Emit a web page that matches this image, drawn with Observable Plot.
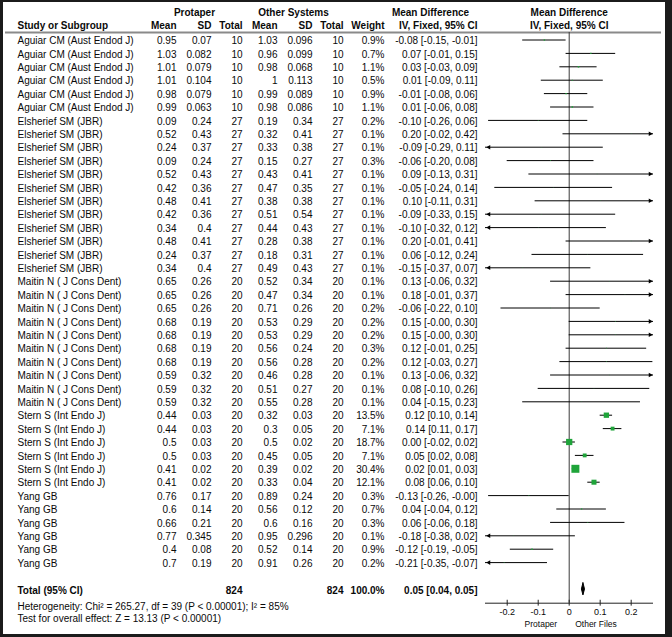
<!DOCTYPE html>
<html>
<head>
<meta charset="utf-8">
<script src="https://cdn.jsdelivr.net/npm/d3@7"></script>
<script src="https://cdn.jsdelivr.net/npm/@observablehq/plot@0.6"></script>
<style>
  html, body { margin: 0; padding: 0; background: #1b1b1b; }
  #wrap { position: relative; width: 672px; height: 637px; background: #1b1b1b; overflow: hidden; }
  #inner { position: absolute; left: 3px; top: 2px; width: 662px; height: 632px; background: #fff; }
  #chart { position: absolute; left: 0; top: 0; }
</style>
</head>
<body>
<div id="wrap"><div id="inner"></div><div id="chart"></div></div>
<script>
const studies = [
  "Aguiar CM (Aust Endod J)","Aguiar CM (Aust Endod J)","Aguiar CM (Aust Endod J)",
  "Aguiar CM (Aust Endod J)","Aguiar CM (Aust Endod J)","Aguiar CM (Aust Endod J)",
  "Elsherief SM (JBR)","Elsherief SM (JBR)","Elsherief SM (JBR)","Elsherief SM (JBR)",
  "Elsherief SM (JBR)","Elsherief SM (JBR)","Elsherief SM (JBR)","Elsherief SM (JBR)",
  "Elsherief SM (JBR)","Elsherief SM (JBR)","Elsherief SM (JBR)","Elsherief SM (JBR)",
  "Maitin N ( J Cons Dent)","Maitin N ( J Cons Dent)","Maitin N ( J Cons Dent)",
  "Maitin N ( J Cons Dent)","Maitin N ( J Cons Dent)","Maitin N ( J Cons Dent)",
  "Maitin N ( J Cons Dent)","Maitin N ( J Cons Dent)","Maitin N ( J Cons Dent)",
  "Maitin N ( J Cons Dent)",
  "Stern S (Int Endo J)","Stern S (Int Endo J)","Stern S (Int Endo J)",
  "Stern S (Int Endo J)","Stern S (Int Endo J)","Stern S (Int Endo J)",
  "Yang GB","Yang GB","Yang GB","Yang GB","Yang GB","Yang GB"
];
const protaperMean = [0.95,1.03,1.01,1.01,0.98,0.99,
  0.09,0.52,0.24,0.09,0.52,0.42,0.48,0.42,0.34,0.48,0.24,0.34,
  0.65,0.65,0.65,0.68,0.68,0.68,0.68,0.59,0.59,0.59,
  0.44,0.44,0.5,0.5,0.41,0.41,
  0.76,0.6,0.66,0.77,0.4,0.7];
const protaperSD = [0.07,0.082,0.079,0.104,0.079,0.063,
  0.24,0.43,0.37,0.24,0.43,0.36,0.41,0.36,0.4,0.41,0.37,0.4,
  0.26,0.26,0.26,0.19,0.19,0.19,0.19,0.32,0.32,0.32,
  0.03,0.03,0.03,0.03,0.02,0.02,
  0.17,0.14,0.21,0.345,0.08,0.19];
const protaperN = [10,10,10,10,10,10,
  27,27,27,27,27,27,27,27,27,27,27,27,
  20,20,20,20,20,20,20,20,20,20,
  20,20,20,20,20,20,
  20,20,20,20,20,20];
const otherMean = [1.03,0.96,0.98,1,0.99,0.98,
  0.19,0.32,0.33,0.15,0.43,0.47,0.38,0.51,0.44,0.28,0.18,0.49,
  0.52,0.47,0.71,0.53,0.53,0.56,0.56,0.46,0.51,0.55,
  0.32,0.3,0.5,0.45,0.39,0.33,
  0.89,0.56,0.6,0.95,0.52,0.91];
const otherSD = [0.096,0.099,0.068,0.113,0.089,0.086,
  0.34,0.41,0.38,0.27,0.41,0.35,0.38,0.54,0.43,0.38,0.31,0.43,
  0.34,0.34,0.26,0.29,0.29,0.24,0.28,0.28,0.27,0.28,
  0.03,0.05,0.02,0.05,0.02,0.04,
  0.24,0.12,0.16,0.296,0.14,0.26];
const otherN = protaperN.slice();
const weight = [0.9,0.7,1.1,0.5,0.9,1.1,
  0.2,0.1,0.1,0.3,0.1,0.1,0.1,0.1,0.1,0.1,0.1,0.1,
  0.1,0.1,0.2,0.2,0.2,0.3,0.2,0.1,0.1,0.1,
  13.5,7.1,18.7,7.1,30.4,12.1,
  0.3,0.7,0.3,0.1,0.9,0.2];
const md = [-0.08,0.07,0.03,0.01,-0.01,0.01,
  -0.10,0.20,-0.09,-0.06,0.09,-0.05,0.10,-0.09,-0.10,0.20,0.06,-0.15,
  0.13,0.18,-0.06,0.15,0.15,0.12,0.12,0.13,0.08,0.04,
  0.12,0.14,0.00,0.05,0.02,0.08,
  -0.13,0.04,0.06,-0.18,-0.12,-0.21];
const ciLow = [-0.15,-0.01,-0.03,-0.09,-0.08,-0.06,
  -0.26,-0.02,-0.29,-0.20,-0.13,-0.24,-0.11,-0.33,-0.32,-0.01,-0.12,-0.37,
  -0.06,-0.01,-0.22,-0,-0,-0.01,-0.03,-0.06,-0.10,-0.15,
  0.10,0.11,-0.02,0.02,0.01,0.06,
  -0.26,-0.04,-0.06,-0.38,-0.19,-0.35];
const ciHigh = [-0.01,0.15,0.09,0.11,0.06,0.08,
  0.06,0.42,0.11,0.08,0.31,0.14,0.31,0.15,0.12,0.41,0.24,0.07,
  0.32,0.37,0.10,0.30,0.30,0.25,0.27,0.32,0.26,0.23,
  0.14,0.17,0.02,0.08,0.03,0.10,
  -0,0.12,0.18,0.02,-0.05,-0.07];

// overall (pooled) estimate
const totalLabel = "0.05 [0.04, 0.05]";
const totalMD = 0.046, totalLow = 0.041, totalHigh = 0.051;
const totalWeight = "100.0%";
const heterogeneity = "Heterogeneity: Chi\u00B2 = 265.27, df = 39 (P < 0.00001); I\u00B2 = 85%";
const overallTest = "Test for overall effect: Z = 13.13 (P < 0.00001)";

const xDomain = [-0.27, 0.272];
const xTicks = [-0.2, -0.1, 0, 0.1, 0.2];
const tickLabels = ["-0.2", "-0.1", "0", "0.1", "0.2"];
const favoursLeft = "Protaper";
const favoursRight = "Other Files";

const fmt2 = v => ((v < 0 || Object.is(v, -0)) ? "-" : "") + Math.abs(v).toFixed(2);

const rows = studies.map((s, i) => ({
  i, study: s,
  pm: protaperMean[i], psd: protaperSD[i], pn: protaperN[i],
  om: otherMean[i], osd: otherSD[i], on: otherN[i],
  w: weight[i], md: md[i], lo: ciLow[i], hi: ciHigh[i],
  x1: Math.max(ciLow[i], xDomain[0]), x2: Math.min(ciHigh[i], xDomain[1]),
  ci: `${fmt2(md[i])} [${fmt2(ciLow[i])}, ${fmt2(ciHigh[i])}]`
}));

const totalP = d3.sum(protaperN), totalO = d3.sum(otherN);

const ink = "#0a0a0a";
const green = "#1fa43a";
const TOTAL_ROW = 41, AXIS_ROW = 42.03, HEAD2 = -1.06, HEAD1 = -2.05, HLINE = -0.56;

function label(t, dx, y, anchor, opts = {}) {
  return Plot.text([t], {text: d => d, frameAnchor: "left", dx, y, textAnchor: anchor, fill: ink, ...opts});
}
function col(fn, right, opts = {}) {
  return Plot.text(rows, {y: "i", text: fn, frameAnchor: "left", dx: right, dy: 1, textAnchor: "end", fill: ink, ...opts});
}
const B = {fontWeight: "bold"};

const chart = Plot.plot({
  width: 672, height: 637,
  marginLeft: 0, marginRight: 0, marginTop: 0, marginBottom: 0,
  style: {background: "transparent", fontFamily: "'Liberation Sans', Arial, sans-serif", fontSize: "10px"},
  x: {domain: xDomain, range: [485, 653], axis: null},
  y: {type: "linear", domain: [0, 39], range: [39.5, 562.1], axis: null},
  r: {type: "sqrt", domain: [0, d3.max(weight)], range: [0, 4.5]},
  marks: [
    // header rule
    Plot.ruleY([HLINE], {stroke: "#8a8a8a", strokeWidth: 2, insetLeft: 5, insetRight: 11}),
    // header texts
    label("Protaper", 194, HEAD1, "middle", B),
    label("Other Systems", 293, HEAD1, "middle", B),
    label("Mean Difference", 430, HEAD1, "middle", B),
    Plot.text(["Mean Difference"], {x: () => 0, y: HEAD1, text: d => d, fontWeight: "bold", fill: ink}),
    label("Study or Subgroup", 17, HEAD2, "start", B),
    label("Mean", 176, HEAD2, "end", B),
    label("SD", 211, HEAD2, "end", B),
    label("Total", 242, HEAD2, "end", B),
    label("Mean", 277, HEAD2, "end", B),
    label("SD", 312, HEAD2, "end", B),
    label("Total", 343, HEAD2, "end", B),
    label("Weight", 384, HEAD2, "end", B),
    label("IV, Fixed, 95% CI", 477, HEAD2, "end", B),
    Plot.text(["IV, Fixed, 95% CI"], {x: () => 0, y: HEAD2, text: d => d, fontWeight: "bold", fill: ink}),
    // study rows
    Plot.text(rows, {y: "i", text: "study", frameAnchor: "left", dx: 17, dy: 1, textAnchor: "start", fill: ink}),
    col(d => String(d.pm), 176),
    col(d => String(d.psd), 211),
    col(d => String(d.pn), 242),
    col(d => String(d.om), 277),
    col(d => String(d.osd), 312),
    col(d => String(d.on), 343),
    col(d => d.w.toFixed(1) + "%", 384),
    col(d => d.ci, 477),
    // total row
    label("Total (95% CI)", 17, TOTAL_ROW + 0.07, "start", B),
    label(String(totalP), 242, TOTAL_ROW + 0.07, "end", B),
    label(String(totalO), 343, TOTAL_ROW + 0.07, "end", B),
    label(totalWeight, 384, TOTAL_ROW + 0.07, "end", B),
    label(totalLabel, 477, TOTAL_ROW + 0.07, "end", B),
    label(heterogeneity, 17, 42.33, "start"),
    label(overallTest, 17, 43.19, "start"),
    // zero line
    Plot.ruleX([0], {y1: HLINE, y2: AXIS_ROW, stroke: "#3a3a3a", strokeWidth: 1}),
    // CI lines
    Plot.ruleY(rows, {y: "i", x1: "x1", x2: "x2", stroke: "#000", strokeWidth: 1}),
    Plot.dot(rows.filter(d => d.hi > xDomain[1]), {x: () => xDomain[1], y: "i", symbol: "triangle2", r: 2.2, rotate: 90, dx: -3.4, fill: "#000", stroke: "none"}),
    Plot.dot(rows.filter(d => d.lo < xDomain[0]), {x: () => xDomain[0], y: "i", symbol: "triangle2", r: 2.2, rotate: -90, dx: 3.4, fill: "#000", stroke: "none"}),
    // weight squares
    Plot.dot(rows, {x: "md", y: "i", r: "w", symbol: "square", fill: green, stroke: "none"}),
    // pooled diamond
    Plot.areaX([
      {y: TOTAL_ROW - 0.45, a: totalMD, b: totalMD},
      {y: TOTAL_ROW, a: totalLow, b: totalHigh},
      {y: TOTAL_ROW + 0.45, a: totalMD, b: totalMD}
    ], {y: "y", x1: "a", x2: "b", fill: "#000", stroke: "#000", strokeWidth: 1}),
    // axis
    Plot.ruleY([AXIS_ROW], {x1: xDomain[0], x2: xDomain[1], stroke: "#222", strokeWidth: 1}),
    Plot.ruleX(xTicks, {x: d => d, y1: AXIS_ROW - 0.22, y2: AXIS_ROW + 0.22, stroke: "#222"}),
    Plot.text(xTicks, {x: d => d, y: 42.72, text: (d, i) => tickLabels[i], fontSize: 9, fill: ink}),
    Plot.text([0], {x: d => d, y: 43.57, text: () => favoursLeft, textAnchor: "end", dx: -12, fontSize: 8.5, fill: ink}),
    Plot.text([0], {x: d => d, y: 43.57, text: () => favoursRight, textAnchor: "start", dx: 6, fontSize: 8.5, fill: ink})
  ]
});
document.getElementById("chart").appendChild(chart);
</script>
</body>
</html>
